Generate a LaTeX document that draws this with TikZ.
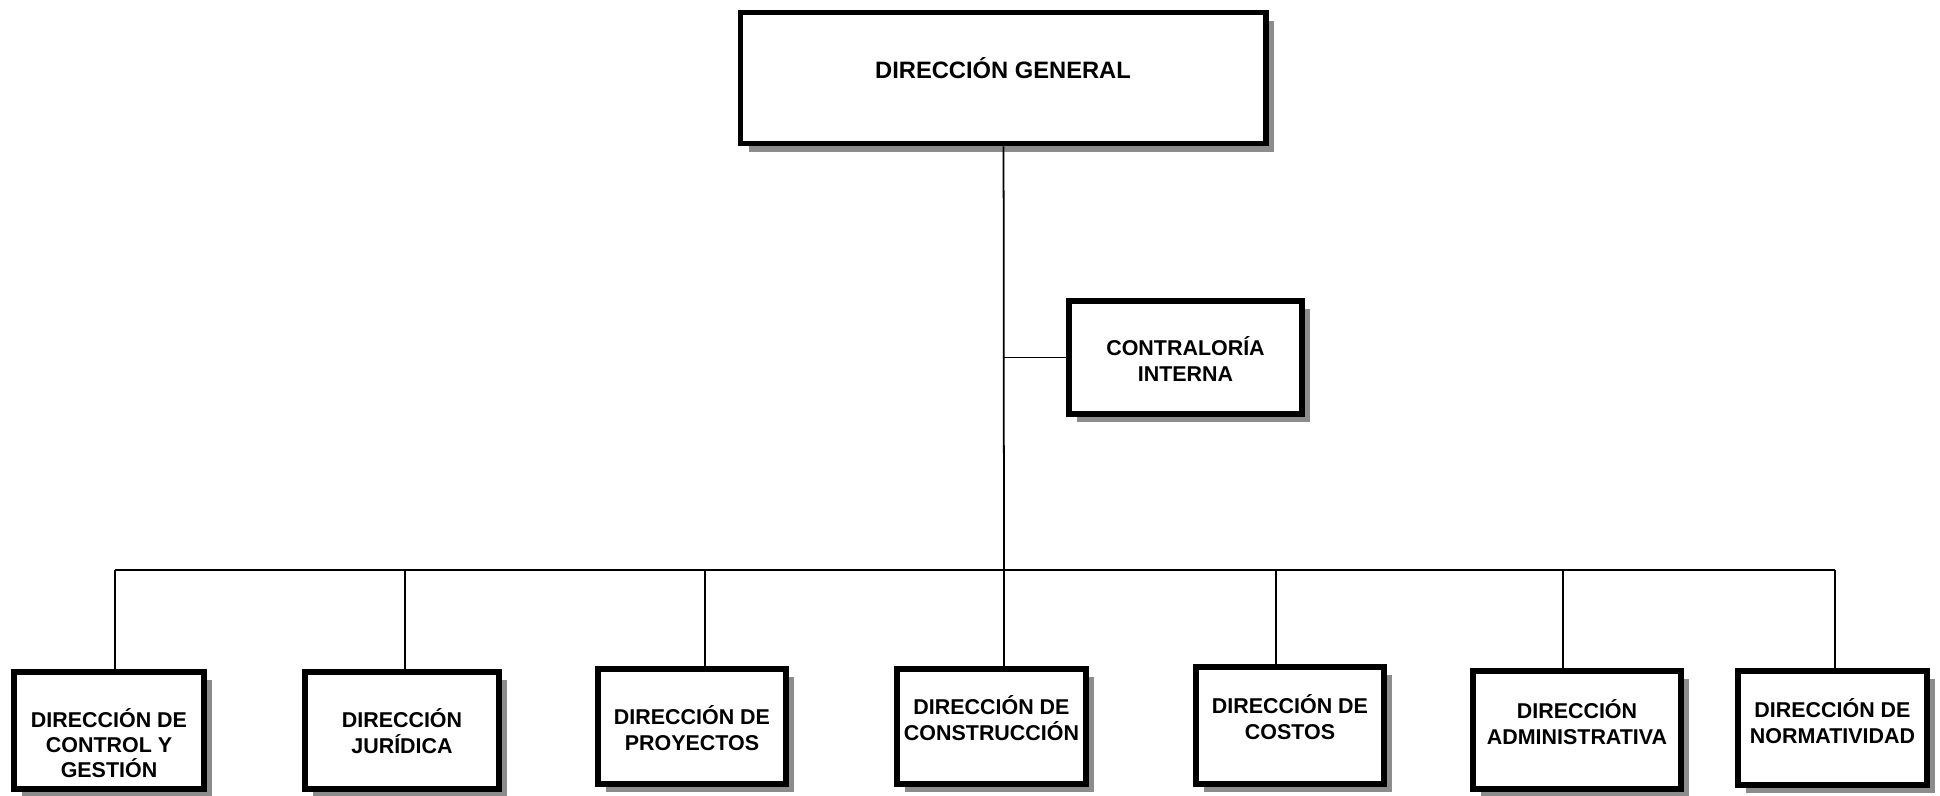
\documentclass[tikz,border=0pt]{standalone}
\usepackage{fontspec}
\setmainfont{Liberation Sans}
\usetikzlibrary{shadows}

\begin{document}
\begin{tikzpicture}[scale=0.2]
		\tikzstyle{every node}+=[inner sep=0pt]
		\tikzstyle{box}=[draw=black, line width=3.4pt, fill=white, drop shadow={shadow xshift=4.6pt, shadow yshift=-4.6pt, fill=black!45, opacity=1}]
		\tikzstyle{lbl}=[align=center, font=\bfseries\fontsize{12.2}{14.45}\selectfont]
		\tikzstyle{wire}=[black, line width=1pt]
		\useasboundingbox (0,0) rectangle (194,-79.6);
		% direccion general and contraloria
		\node [box, minimum width=10.50cm, minimum height=2.62cm] (dg) at (100.3,-7.8) {};
		\node [lbl, font=\bfseries\fontsize{13.5}{16}\selectfont] (dgt) at (100.3,-6.8) {DIRECCIÓN GENERAL};
		\node [box, minimum width=4.66cm, minimum height=2.26cm] (ci) at (118.55,-35.75) {};
		\node [lbl] (cit) at (118.55,-35.9) {CONTRALORÍA\\INTERNA};
		% direcciones
		\node [box, minimum width=3.80cm, minimum height=2.34cm] (b1) at (10.9,-73.05) {};
		\node [lbl] (b1t) at (10.9,-74.3) {DIRECCIÓN DE\\CONTROL Y\\GESTIÓN};
		\node [box, minimum width=3.88cm, minimum height=2.34cm] (b2) at (40.2,-73.05) {};
		\node [lbl] (b2t) at (40.2,-73.1) {DIRECCIÓN\\JURÍDICA};
		\node [box, minimum width=3.76cm, minimum height=2.30cm] (b3) at (69.2,-72.65) {};
		\node [lbl] (b3t) at (69.2,-72.8) {DIRECCIÓN DE\\PROYECTOS};
		\node [box, minimum width=3.78cm, minimum height=2.30cm] (b4) at (99.15,-72.65) {};
		\node [lbl] (b4t) at (99.15,-71.8) {DIRECCIÓN DE\\CONSTRUCCIÓN};
		\node [box, minimum width=3.76cm, minimum height=2.34cm] (b5) at (129.0,-72.55) {};
		\node [lbl] (b5t) at (129.0,-71.7) {DIRECCIÓN DE\\COSTOS};
		\node [box, minimum width=4.16cm, minimum height=2.36cm] (b6) at (157.7,-73.0) {};
		\node [lbl] (b6t) at (157.7,-72.2) {DIRECCIÓN\\ADMINISTRATIVA};
		\node [box, minimum width=3.78cm, minimum height=2.28cm] (b7) at (183.25,-72.8) {};
		\node [lbl] (b7t) at (183.25,-72.1) {DIRECCIÓN DE\\NORMATIVIDAD};
		% bus
		\coordinate (top) at ([xshift=0.06cm]dg.south);
		\coordinate (trunk) at (100.4,-57);
		\coordinate (t1) at (11.5,-57);
		\coordinate (t2) at (40.5,-57);
		\coordinate (t3) at (70.5,-57);
		\coordinate (t5) at (127.6,-57);
		\coordinate (t6) at (156.3,-57);
		\coordinate (t7) at (183.5,-57);
		\draw [wire] (top) -- (trunk);
		\draw [wire] (ci.west) -- (ci.west -| trunk);
		\draw [wire] (t1) -- (t7);
		\draw [wire] (t1) -- (t1 |- b1.north);
		\draw [wire] (t2) -- (t2 |- b2.north);
		\draw [wire] (t3) -- (t3 |- b3.north);
		\draw [wire] (trunk) -- (trunk |- b4.north);
		\draw [wire] (t5) -- (t5 |- b5.north);
		\draw [wire] (t6) -- (t6 |- b6.north);
		\draw [wire] (t7) -- (t7 |- b7.north);
	\end{tikzpicture}
\end{document}
